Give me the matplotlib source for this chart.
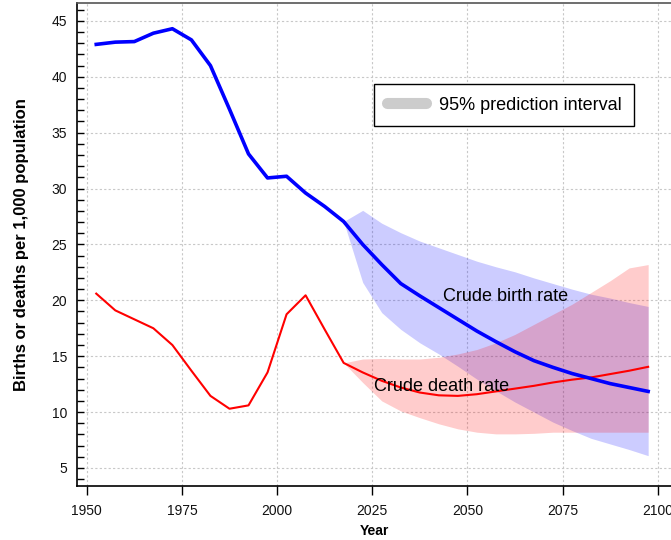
import matplotlib
matplotlib.use('Agg')
import matplotlib.pyplot as plt
from matplotlib.lines import Line2D
from matplotlib.ticker import MultipleLocator

plt.rcParams['font.family'] = ['Liberation Sans', 'DejaVu Sans']

# mid-years of 5-year periods
years_past = [1952.5, 1957.5, 1962.5, 1967.5, 1972.5, 1977.5, 1982.5, 1987.5,
              1992.5, 1997.5, 2002.5, 2007.5, 2012.5, 2017.5]
years_proj = [2017.5, 2022.5, 2027.5, 2032.5, 2037.5, 2042.5, 2047.5, 2052.5,
              2057.5, 2062.5, 2067.5, 2072.5, 2077.5, 2082.5, 2087.5, 2092.5, 2097.5]

birth_past = [42.9, 43.1, 43.15, 43.9, 44.3, 43.3, 41.0, 37.1,
              33.1, 30.95, 31.1, 29.6, 28.4, 27.05]
death_past = [20.6, 19.1, 18.3, 17.5, 16.0, 13.7, 11.45, 10.3,
              10.6, 13.55, 18.75, 20.45, 17.4, 14.4]

birth_proj = [27.05, 25.0, 23.2, 21.5, 20.4, 19.35, 18.3, 17.25,
              16.3, 15.4, 14.6, 14.0, 13.45, 13.0, 12.55, 12.2, 11.85]
birth_hi = [27.05, 28.05, 26.9, 26.05, 25.3, 24.7, 24.1, 23.5,
            23.0, 22.55, 22.0, 21.5, 21.0, 20.55, 20.2, 19.8, 19.45]
birth_lo = [27.05, 21.6, 18.9, 17.4, 16.2, 15.2, 14.1, 12.95,
            11.9, 10.9, 10.0, 9.1, 8.35, 7.65, 7.15, 6.65, 6.1]

death_proj = [14.4, 13.55, 12.8, 12.2, 11.75, 11.5, 11.45, 11.6,
              11.85, 12.1, 12.35, 12.65, 12.9, 13.1, 13.4, 13.7, 14.05]
death_hi = [14.4, 14.75, 14.8, 14.75, 14.75, 14.9, 15.2, 15.6,
            16.2, 16.95, 17.85, 18.75, 19.65, 20.7, 21.75, 22.9, 23.2]
death_lo = [14.4, 12.65, 11.0, 10.1, 9.5, 8.95, 8.5, 8.2,
            8.05, 8.05, 8.1, 8.2, 8.2, 8.2, 8.2, 8.2, 8.2]

fig = plt.figure(figsize=(6.71, 5.40), dpi=100)
ax = fig.add_axes([0.1148, 0.1009, 0.8852, 0.8935])

ax.fill_between(years_proj, birth_lo, birth_hi, color='blue', alpha=0.2, lw=0)
ax.fill_between(years_proj, death_lo, death_hi, color='red', alpha=0.2, lw=0)

ax.plot(years_past + years_proj[1:], death_past + death_proj[1:], color='#ff0000', lw=1.5)
ax.plot(years_past + years_proj[1:], birth_past + birth_proj[1:], color='#0000ff', lw=2.6)

ax.text(2060, 20.35, 'Crude birth rate', fontsize=13, ha='center', va='center')
ax.text(2043.3, 12.3, 'Crude death rate', fontsize=13, ha='center', va='center')

ax.set_xlim(1947.45, 2103.5)
ax.set_ylim(3.43, 46.6)
ax.set_xticks([1950, 1975, 2000, 2025, 2050, 2075, 2100])
ax.yaxis.set_major_locator(MultipleLocator(5))
ax.yaxis.set_minor_locator(MultipleLocator(1))
ax.set_yticks([5, 10, 15, 20, 25, 30, 35, 40, 45])

ax.grid(True, color='#c8c8c8', linestyle=(0, (2, 2)), linewidth=0.8)
ax.set_axisbelow(True)

ax.tick_params(axis='y', which='both', direction='in', length=5, width=1,
               labelsize=10, pad=7, colors='black', labelcolor='#111111')
ax.tick_params(axis='x', which='both', direction='out', length=6.5, width=1,
               labelsize=10, pad=7, labelcolor='#111111')

ax.spines['right'].set_visible(False)
ax.spines['top'].set_color('#555555')
ax.spines['top'].set_linewidth(1.2)
ax.spines['left'].set_linewidth(1.2)
ax.spines['bottom'].set_linewidth(1.2)

ax.set_xlabel('Year', fontsize=10, fontweight='bold', labelpad=4)
ax.set_ylabel('Births or deaths per 1,000 population', fontsize=12,
              fontweight='bold', labelpad=16)

h = Line2D([0], [0], color='#cccccc', lw=8, solid_capstyle='round')
leg = ax.legend([h], ['95% prediction interval'], loc='upper left',
                bbox_to_anchor=(374 / 671, 1 - 84 / 540),
                bbox_transform=fig.transFigure, fontsize=13,
                handlelength=2.2, handletextpad=0.7, borderpad=0.7,
                borderaxespad=0, fancybox=False, framealpha=1)
leg.get_frame().set_edgecolor('black')
leg.get_frame().set_linewidth(1.0)

fig.savefig('out.png', dpi=100)
